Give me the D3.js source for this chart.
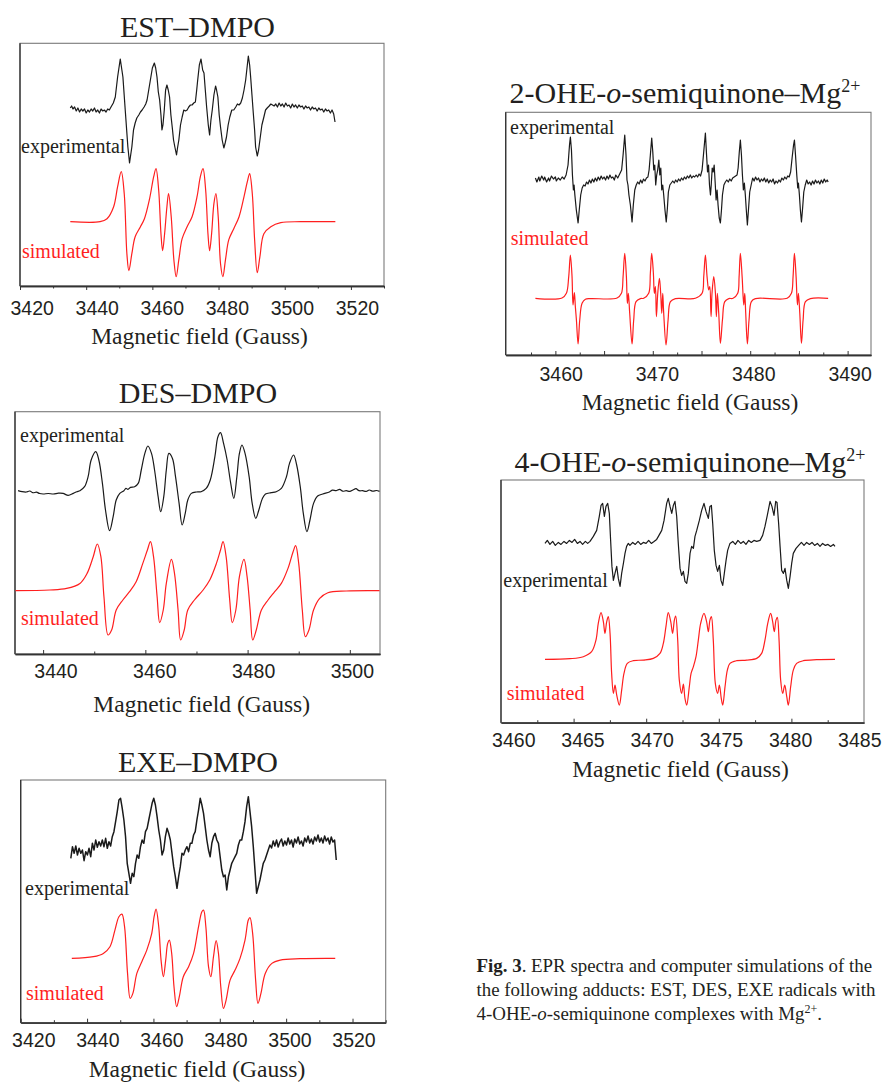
<!DOCTYPE html>
<html>
<head>
<meta charset="utf-8">
<script src="https://cdn.jsdelivr.net/npm/d3@7"></script>
<style>
  body { margin: 0; background: #fff; }
  svg { display: block; }
</style>
</head>
<body>
<div id="fig"></div>
<script>
// EPR spectra figure, 5 panels
const WIDTH = 885;
const HEIGHT = 1083;

// ---- data: [field (G), intensity (a.u.)] ----

// EST-DMPO
const EST_EXP = [[3435.2,2],[3435.6,4],[3436.0,1],[3436.5,3],[3437.0,-1],[3437.5,2],[3438.0,-2],[3438.5,1],[3439.0,-1],[3439.5,1],[3440.0,-3],[3440.5,0],[3441.0,-2],[3441.5,1],[3442.0,-1],[3442.5,2],[3443.0,-2],[3443.5,0],[3444.0,-3],[3444.5,1],[3445.0,-1],[3445.5,0],[3446.0,-2],[3446.5,1],[3447.0,0],[3447.5,3],[3448.2,7],[3448.8,13],[3449.5,33],[3450.3,51],[3451.1,33],[3451.8,0],[3452.6,-37],[3453.1,-53],[3453.8,-37],[3454.3,-20],[3454.8,-13],[3455.3,-8],[3455.9,-5],[3456.4,-2],[3456.9,0],[3457.5,3],[3458.0,6],[3458.4,10],[3458.9,20],[3459.4,30],[3460.0,42],[3460.6,47],[3461.0,42],[3461.4,33],[3461.8,18],[3462.2,10],[3462.6,-5],[3462.9,-20],[3463.2,-15],[3463.6,0],[3464.0,20],[3464.4,25],[3464.8,20],[3465.2,13],[3465.6,-5],[3466.0,-17],[3466.4,-30],[3466.8,-37],[3467.3,-45],[3467.6,-38],[3468.0,-30],[3468.5,-15],[3469.0,-7],[3469.5,0],[3470.0,-1],[3470.5,0],[3471.0,3],[3471.5,5],[3472.0,5],[3472.5,7],[3473.0,8],[3473.4,20],[3473.7,30],[3474.2,45],[3474.7,51],[3475.2,40],[3475.6,37],[3476.0,20],[3476.4,3],[3476.9,-15],[3477.3,-25],[3477.7,-10],[3478.1,0],[3478.6,15],[3479.1,24],[3479.4,20],[3479.8,13],[3480.2,-5],[3480.6,-17],[3481.1,-30],[3481.6,-38],[3482.0,-33],[3482.4,-27],[3482.9,-15],[3483.4,-7],[3484.0,0],[3484.6,0],[3485.2,3],[3485.7,6],[3486.2,5],[3486.7,7],[3487.2,12],[3487.7,20],[3488.2,30],[3489.0,54],[3489.4,45],[3489.7,33],[3490.1,15],[3490.5,-3],[3490.9,-20],[3491.2,-37],[3491.7,-46],[3492.1,-40],[3492.5,-30],[3493.1,-15],[3493.7,-7],[3494.2,0],[3494.7,2],[3495.3,4],[3495.8,6],[3496.3,5],[3496.8,4],[3497.3,6],[3497.8,3],[3498.3,7],[3498.8,4],[3499.3,6],[3499.8,3],[3500.3,7],[3500.8,4],[3501.3,5],[3501.8,2],[3502.3,6],[3502.8,3],[3503.3,5],[3503.8,2],[3504.3,5],[3504.8,3],[3505.3,4],[3505.8,1],[3506.3,4],[3506.8,2],[3507.3,3],[3507.8,0],[3508.3,3],[3508.8,1],[3509.3,2],[3509.8,-1],[3510.3,2],[3510.8,0],[3511.3,1],[3511.8,-2],[3512.3,1],[3512.8,-1],[3513.3,0],[3513.8,-3],[3514.3,0],[3514.8,-4],[3515.2,-12]];
const EST_SIM = [[3435.2,0],[3444.2,0],[3446.3,3],[3448.3,15],[3449.5,35],[3450.6,50],[3451.5,28],[3452.3,-32],[3452.9,-49],[3453.8,-32],[3454.8,-15],[3456.4,-5],[3457.6,3],[3459.1,22],[3460.4,45],[3461.1,53],[3461.9,32],[3462.6,-12],[3463.1,-29],[3463.7,-12],[3464.4,15],[3464.9,28],[3465.7,5],[3466.5,-38],[3467.2,-55],[3468.0,-38],[3469.0,-17],[3470.5,-5],[3472.0,5],[3473.5,25],[3474.5,45],[3475.3,53],[3476.1,32],[3476.8,-12],[3477.3,-29],[3477.9,-12],[3478.6,18],[3479.2,28],[3479.9,5],[3480.6,-42],[3481.3,-55],[3482.1,-38],[3483.1,-18],[3484.6,-7],[3486.2,5],[3487.7,25],[3488.7,40],[3489.4,48],[3490.2,28],[3490.9,-18],[3491.7,-51],[3492.5,-35],[3493.7,-12],[3495.8,-5],[3498.8,-1],[3504.8,0],[3515.3,0]];

// DES-DMPO
const DES_EXP = [[3435.1,1],[3435.9,0],[3436.7,-0.3],[3437.4,0.7],[3438.0,-1],[3438.7,-0.5],[3439.3,-1.8],[3440.0,-2.3],[3441.0,-1.8],[3442.0,-2.3],[3443.0,-1.5],[3443.9,-1.7],[3444.9,-3.7],[3445.9,-1.7],[3446.6,0],[3447.2,1],[3448.1,5],[3448.8,15],[3449.4,31.7],[3450.3,40],[3450.9,31.7],[3451.6,8.3],[3452.2,-18.3],[3453.0,-39],[3453.7,-25],[3454.3,-8.3],[3455.0,-1.7],[3455.8,1],[3456.2,3.3],[3456.6,2.3],[3457.1,4.3],[3457.9,5],[3458.6,8.3],[3459.2,21.7],[3459.9,38.3],[3460.5,45.7],[3461.2,38.3],[3461.8,21.7],[3462.5,-5],[3463.0,-20],[3463.6,-5],[3464.1,21.7],[3464.6,38.3],[3465.3,33.3],[3465.9,15],[3466.6,-11.7],[3467.2,-33.3],[3467.8,-21.7],[3468.3,-8.3],[3469.0,-1.7],[3470.0,-0.3],[3470.9,0],[3471.9,3.3],[3472.7,11.7],[3473.6,35],[3474.2,55],[3474.7,59],[3475.3,48.3],[3476.0,31.7],[3476.7,8.3],[3477.3,-6.7],[3477.9,15],[3478.4,38.3],[3478.9,46.7],[3479.5,38.3],[3480.3,15],[3480.9,-11.7],[3481.6,-26.7],[3482.2,-18.3],[3482.9,-6.7],[3483.5,-2.3],[3484.6,-1],[3485.6,0],[3486.6,3.3],[3487.6,15],[3488.2,28.3],[3489.0,36.7],[3489.6,26.7],[3490.3,5],[3490.9,-21.7],[3491.6,-40],[3492.2,-28.3],[3492.9,-11.7],[3493.7,-4.3],[3494.7,-2.3],[3496.0,-0.3],[3496.6,1.5],[3497.3,1],[3498.0,2.3],[3498.6,0.5],[3499.3,1],[3500.0,0.3],[3500.6,1.7],[3501.2,3],[3501.8,1],[3502.5,1],[3503.2,0.3],[3503.8,1.7],[3504.5,0.5],[3505.2,1.2],[3505.8,0.3]];
const DES_SIM = [[3434.6,0],[3441.3,0.7],[3444.6,2.3],[3447.2,7.3],[3448.6,17.3],[3449.8,34],[3450.6,46.7],[3451.3,34],[3451.9,-6],[3452.7,-44.3],[3453.4,-39.3],[3454.3,-19.3],[3455.6,-9.3],[3456.9,-1],[3458.2,9],[3459.5,27.3],[3460.4,40.7],[3461.0,49],[3461.6,34],[3462.3,-6],[3462.8,-32],[3463.5,-19.3],[3464.1,7.3],[3465.1,31.3],[3465.7,17.3],[3466.4,-19.3],[3466.9,-49.3],[3467.6,-39.3],[3468.3,-19.3],[3469.6,-9.3],[3471.3,0.7],[3472.6,10.7],[3473.9,27.3],[3474.7,40.7],[3475.2,49],[3475.8,34],[3476.5,-9.3],[3477.0,-32],[3477.7,-19.3],[3478.4,14],[3479.3,31.3],[3479.9,14],[3480.5,-19.3],[3481.0,-49.3],[3481.7,-39.3],[3482.7,-19.3],[3484.0,-9.3],[3485.3,-1],[3486.6,7.3],[3487.9,22.3],[3488.9,39],[3489.4,45],[3490.0,27.3],[3490.7,-19.3],[3491.3,-46],[3492.0,-39.3],[3492.9,-19.3],[3494.1,-7.7],[3495.7,-2],[3499.3,-0.3],[3505.8,0]];

// EXE-DMPO (experimental sampled every 0.5 G from 3435.1 G)
const EXE_EXP_START = 3435.1;
const EXE_EXP_STEP = 0.5;
const EXE_EXP = [-8.3,3.3,-3.3,4,-5,1.7,-3.3,0,-10.7,-1.7,-5,1.7,-6.7,6.7,0,10,2.7,8.3,4,10,3.3,11.7,1.7,8.3,4,13.3,18.3,28.3,38.3,50,51.7,41.7,30,13.3,-13.3,-23.3,-33.3,-23.3,-26.7,-13.3,-5,-8.3,3.3,10,6.7,18.3,21.7,30,38.3,46.7,51.7,45,33.3,20,10,-5,0,13.3,21.7,16.7,10,-3.3,-16.7,-26.7,-38.3,-26.7,-16.7,-3.3,-5,0,3.3,-1.7,6.7,6.7,15,18.3,30,40,51.7,45,36.7,23.3,10,0,-6.7,6.7,13.3,16.7,10,6.7,-6.7,-20,-26.7,-25,-40,-26.7,-20,-13.3,-10,-6.7,-3.3,5,10,10,18.3,28.3,43.3,53.3,38.3,23.3,3.3,-20,-43.3,-36.7,-30,-21.7,-13.3,-10,-5,0,5,2,9,4,10,3,8,11,4,9,5,12,6,10,3,11,7,13,6,9,4,12,8,14,7,11,6,13,9,15,8,12,7,14,9,12,6,13,8,10,-10];
const EXE_SIM = [[3435.4,0],[3441.9,1.7],[3444.9,5],[3446.9,11.7],[3448.4,28.3],[3449.6,41.7],[3450.5,44.3],[3451.3,31.7],[3452.2,-15],[3453.0,-40],[3453.8,-35],[3455.0,-15],[3456.5,-3.3],[3458.0,8.3],[3459.5,25],[3460.2,41.7],[3460.8,49.3],[3461.6,31.7],[3462.3,-1.7],[3463.0,-18.3],[3463.7,-1.7],[3464.3,15],[3464.8,18.3],[3465.5,5],[3466.2,-28.3],[3467.0,-48.3],[3467.8,-38.3],[3469.0,-18.3],[3470.6,-8.3],[3472.1,5],[3473.6,31.7],[3474.6,46.7],[3475.1,48.3],[3475.8,31.7],[3476.6,-8.3],[3477.3,-18.3],[3478.1,1.7],[3478.9,17.7],[3479.6,5],[3480.3,-28.3],[3481.1,-50],[3481.9,-41.7],[3483.1,-21.7],[3484.6,-11.7],[3486.1,0],[3487.6,18.3],[3488.6,38.3],[3489.1,40.7],[3489.9,25],[3490.8,-21.7],[3491.5,-45],[3492.4,-35],[3493.7,-15],[3495.7,-5],[3498.2,-1.7],[3504.2,-0.3],[3514.8,0]];

// 2-OHE-o-semiquinone-Mg2+
const OHE2_EXP = [[3457.95,2],[3458.1,-2],[3458.3,3],[3458.4,-1],[3458.6,4],[3458.8,0],[3458.9,3],[3459.1,-2],[3459.3,2],[3459.4,-1],[3459.6,4],[3459.8,1],[3460.0,3],[3460.1,-1],[3460.3,2],[3460.5,0],[3460.7,3],[3460.9,1],[3461.1,5],[3461.3,15],[3461.45,35],[3461.54,43],[3461.65,30],[3461.75,5],[3461.85,-10],[3461.92,-5],[3462.0,-15],[3462.15,-30],[3462.33,-43],[3462.45,-30],[3462.6,-15],[3462.75,-8],[3462.9,-5],[3463.05,-6],[3463.2,-2],[3463.35,-4],[3463.5,0],[3463.65,-3],[3463.8,1],[3463.95,-2],[3464.1,2],[3464.25,-1],[3464.4,3],[3464.55,0],[3464.7,4],[3464.85,1],[3465.0,3],[3465.15,0],[3465.3,4],[3465.45,1],[3465.6,5],[3465.75,2],[3465.9,3],[3466.05,0],[3466.2,5],[3466.4,2],[3466.6,6],[3466.8,10],[3466.95,25],[3467.12,45],[3467.25,25],[3467.35,0],[3467.45,-5],[3467.55,-15],[3467.7,-25],[3467.87,-42],[3468.0,-25],[3468.15,-10],[3468.3,-5],[3468.45,-2],[3468.6,-4],[3468.75,0],[3468.9,-3],[3469.05,1],[3469.2,-1],[3469.35,2],[3469.5,3],[3469.62,10],[3469.75,25],[3469.89,42],[3470.0,28],[3470.1,10],[3470.2,15],[3470.3,-5],[3470.4,5],[3470.5,10],[3470.62,20],[3470.72,5],[3470.82,12],[3470.92,-10],[3471.02,-5],[3471.12,-15],[3471.25,-30],[3471.38,-42],[3471.5,-28],[3471.6,-12],[3471.75,-5],[3471.9,-3],[3472.05,-1],[3472.2,-3],[3472.35,0],[3472.5,-2],[3472.65,1],[3472.8,-1],[3472.95,2],[3473.1,0],[3473.25,3],[3473.4,1],[3473.55,4],[3473.7,2],[3473.85,5],[3474.0,2],[3474.15,4],[3474.3,3],[3474.45,5],[3474.6,3],[3474.75,6],[3474.9,4],[3475.06,10],[3475.2,25],[3475.4,47],[3475.52,25],[3475.62,8],[3475.72,15],[3475.82,-5],[3475.92,-15],[3476.0,-5],[3476.1,12],[3476.2,8],[3476.3,15],[3476.4,-2],[3476.5,-20],[3476.6,-10],[3476.7,-25],[3476.82,-38],[3476.94,-43],[3477.05,-30],[3477.15,-15],[3477.3,-5],[3477.45,-2],[3477.6,0],[3477.75,-2],[3477.9,1],[3478.05,-1],[3478.2,2],[3478.35,3],[3478.5,4],[3478.65,5],[3478.76,12],[3478.88,28],[3478.99,40],[3479.1,25],[3479.2,5],[3479.3,-10],[3479.4,-3],[3479.5,-15],[3479.6,-30],[3479.71,-45],[3479.82,-30],[3479.95,-12],[3480.1,-5],[3480.25,2],[3480.4,-1],[3480.55,3],[3480.7,0],[3480.85,2],[3481.0,-2],[3481.15,1],[3481.3,-1],[3481.45,2],[3481.6,-2],[3481.75,1],[3481.9,-3],[3482.05,0],[3482.2,-2],[3482.35,1],[3482.5,-4],[3482.65,-1],[3482.8,-3],[3482.95,0],[3483.1,-2],[3483.25,2],[3483.4,0],[3483.55,3],[3483.7,1],[3483.85,4],[3484.0,3],[3484.15,8],[3484.3,22],[3484.45,35],[3484.54,40],[3484.65,25],[3484.78,5],[3484.88,-8],[3484.95,-3],[3485.05,-15],[3485.15,-30],[3485.26,-42],[3485.38,-28],[3485.5,-12],[3485.65,-5],[3485.8,0],[3485.95,-4],[3486.1,-2],[3486.25,-5],[3486.4,-1],[3486.55,-4],[3486.7,0],[3486.85,-3],[3487.0,-1],[3487.15,-4],[3487.3,0],[3487.45,-3],[3487.6,1],[3487.75,-2],[3487.9,0],[3488.0,-2]];
const OHE2_SIM = [[3457.95,0],[3460.68,0.3],[3461.13,5],[3461.37,21.7],[3461.54,43.3],[3461.71,21.7],[3461.81,-6.7],[3461.95,5.7],[3462.05,-8.3],[3462.16,-21.7],[3462.33,-45.7],[3462.5,-21.7],[3462.74,-5],[3463.08,-1],[3463.59,-0.3],[3466.33,0.3],[3466.78,5],[3466.95,21.7],[3467.12,45],[3467.29,21.7],[3467.39,-5],[3467.49,5],[3467.63,-15],[3467.87,-45.7],[3468.04,-21.7],[3468.28,-3.3],[3468.73,-0.3],[3469.07,0],[3469.58,5],[3469.75,25],[3469.89,45],[3470.06,25],[3470.16,5],[3470.27,11.7],[3470.37,-18.3],[3470.51,5],[3470.68,20],[3470.81,5],[3470.92,-15],[3471.02,5],[3471.12,-15],[3471.36,-46.7],[3471.57,-21.7],[3471.81,-3.3],[3472.32,-0.3],[3474.37,0],[3475.06,5],[3475.23,21.7],[3475.4,43.3],[3475.57,21.7],[3475.74,8.3],[3475.85,11.7],[3475.98,-18.3],[3476.08,5],[3476.26,21.7],[3476.43,5],[3476.53,-18.3],[3476.63,5],[3476.77,-15],[3476.94,-45],[3477.15,-21.7],[3477.39,-3.3],[3477.8,-0.3],[3478.24,0],[3478.72,5],[3478.86,21.7],[3478.99,45],[3479.17,21.7],[3479.34,-6.7],[3479.44,5],[3479.54,-15],[3479.71,-45.7],[3479.88,-21.7],[3480.12,-3.3],[3480.53,-0.3],[3483.79,0],[3484.23,5],[3484.4,21.7],[3484.54,45],[3484.71,21.7],[3484.85,-6.7],[3484.95,5],[3485.09,-15],[3485.26,-45],[3485.43,-21.7],[3485.67,-3.3],[3486.18,-0.3],[3488.0,0]];

// 4-OHE-o-semiquinone-Mg2+
const OHE4_EXP = [[3463.03,0],[3463.19,3],[3463.37,-1],[3463.56,2],[3463.74,-2],[3463.95,1],[3464.13,-1],[3464.34,2],[3464.52,0],[3464.71,3],[3464.89,1],[3465.07,4],[3465.26,0],[3465.44,2],[3465.62,-1],[3465.81,2],[3465.97,0],[3466.13,2],[3466.36,7],[3466.59,13],[3466.77,27],[3466.89,38],[3467.0,40],[3467.12,27],[3467.23,37],[3467.35,40],[3467.46,30],[3467.55,3],[3467.64,-23],[3467.74,-37],[3467.85,-30],[3467.97,-23],[3468.08,-35],[3468.2,-43],[3468.31,-30],[3468.43,-20],[3468.54,-10],[3468.65,-3],[3468.77,0],[3468.88,-2],[3469.07,1],[3469.25,-1],[3469.44,2],[3469.62,-1],[3469.8,1],[3469.99,0],[3470.17,3],[3470.35,0],[3470.54,2],[3470.72,4],[3470.84,7],[3471.07,13],[3471.23,23],[3471.41,40],[3471.52,45],[3471.64,37],[3471.76,30],[3471.87,38],[3471.98,42],[3472.1,27],[3472.21,0],[3472.33,-25],[3472.44,-32],[3472.56,-28],[3472.67,-38],[3472.79,-40],[3472.9,-30],[3473.02,-10],[3473.13,-3],[3473.25,-5],[3473.36,7],[3473.48,13],[3473.66,23],[3473.82,33],[3473.98,40],[3474.12,32],[3474.28,25],[3474.39,37],[3474.49,38],[3474.58,20],[3474.69,-7],[3474.81,-22],[3474.92,-28],[3475.04,-22],[3475.15,-37],[3475.27,-42],[3475.38,-30],[3475.5,-17],[3475.61,-7],[3475.77,0],[3475.96,2],[3476.14,-1],[3476.32,3],[3476.51,0],[3476.69,2],[3476.87,-1],[3477.06,3],[3477.24,1],[3477.42,3],[3477.61,2],[3477.84,3],[3478.02,8],[3478.18,17],[3478.34,28],[3478.53,42],[3478.66,37],[3478.8,28],[3478.92,42],[3479.01,41],[3479.12,20],[3479.22,-3],[3479.33,-27],[3479.45,-30],[3479.56,-25],[3479.68,-37],[3479.79,-45],[3479.91,-33],[3480.02,-20],[3480.13,-10],[3480.32,-5],[3480.5,-2],[3480.69,1],[3480.87,-2],[3481.05,1],[3481.24,-1],[3481.42,1],[3481.6,-2],[3481.79,0],[3481.97,-3],[3482.15,0],[3482.34,-2],[3482.52,-1],[3482.7,-3],[3482.89,-1],[3483.0,-3]];
const OHE4_SIM = [[3463.03,0],[3464.75,0.7],[3465.67,2.7],[3466.24,7.7],[3466.54,19.3],[3466.7,36],[3466.89,46.7],[3467.05,37.7],[3467.16,26],[3467.28,37.7],[3467.39,42.7],[3467.51,26],[3467.62,-14],[3467.74,-34],[3467.85,-25.7],[3467.97,-35.7],[3468.15,-45.7],[3468.31,-30.7],[3468.47,-14],[3468.7,-4],[3469.11,-1.3],[3469.8,-0.7],[3470.49,1],[3470.95,6],[3471.18,16],[3471.36,32.7],[3471.52,46.7],[3471.69,37.7],[3471.82,26],[3471.94,39.3],[3472.03,43.3],[3472.17,19.3],[3472.28,-20.7],[3472.44,-34],[3472.56,-24.7],[3472.67,-39],[3472.79,-45.7],[3472.97,-27.3],[3473.09,-14],[3473.25,-7.3],[3473.43,2.7],[3473.59,19.3],[3473.75,36],[3473.98,46],[3474.16,37.7],[3474.28,27.7],[3474.39,39.3],[3474.49,42.7],[3474.62,19.3],[3474.76,-24],[3474.92,-34],[3475.04,-25.7],[3475.17,-39],[3475.27,-45.7],[3475.43,-27.3],[3475.59,-10.7],[3475.77,-4],[3476.23,-1.3],[3476.92,-0.7],[3477.61,1],[3477.95,6],[3478.18,19.3],[3478.37,36],[3478.57,46],[3478.71,37.7],[3478.82,27.7],[3478.94,39.3],[3479.03,42],[3479.15,19.3],[3479.26,-20.7],[3479.4,-34],[3479.54,-25.7],[3479.68,-37.3],[3479.79,-45.7],[3479.95,-27.3],[3480.13,-10.7],[3480.36,-4],[3480.82,-1.3],[3481.74,-0.3],[3483.0,0]];

// tick values
const EST_MAJOR = [3420, 3440, 3460, 3480, 3500, 3520];
const EST_MINOR = [3430, 3450, 3470, 3490, 3510, 3530];
const DES_MAJOR = [3440, 3460, 3480, 3500];
const DES_MINOR = [3450, 3470, 3490];
const OHE2_MAJOR = [3460, 3465, 3470, 3475, 3480, 3485, 3490];
const OHE2_MINOR = [3457.5, 3462.5, 3467.5, 3472.5, 3477.5, 3482.5, 3487.5];
const OHE2_LABELS = [3460, 3470, 3480, 3490];
const OHE4_MAJOR = [3465, 3470, 3475, 3480];
const OHE4_MINOR = [3462.5, 3467.5, 3472.5, 3477.5, 3482.5];
const OHE4_LABELS = [3460, 3465, 3470, 3475, 3480, 3485];

const AXIS_TITLE = "Magnetic field (Gauss)";
const SERIF = "'Liberation Serif', 'Times New Roman', serif";
const SANS = "'Liberation Sans', Arial, sans-serif";
const RED = "#ff1f1f";
const INK = "#231f20";

// panel layout
const PANELS = [
  {title: [["EST–DMPO"]], tx: 197.5, ty: 36.5,
   left: 20, right: 384, top: 43.3, bottom: 286, domain: [3420, 3530],
   major: EST_MAJOR, minor: EST_MINOR, labels: EST_MAJOR, tickDir: 1, shift: [11.7, 6], pad: 15.5,
   ax: 199.5, ay: 344,
   exp: EST_EXP, sim: EST_SIM, expBase: 176, simBase: 64.3, expCurve: d3.curveLinear,
   expLab: [21, 153.3], simLab: [22, 258.3]},
  {title: [["DES–DMPO"]], tx: 198, ty: 403.3,
   left: 15, right: 380, top: 411.7, bottom: 654, domain: [3434.5, 3505.9],
   major: DES_MAJOR, minor: DES_MINOR, labels: DES_MAJOR, tickDir: -1, shift: [12.4, 2], pad: 10,
   ax: 201.7, ay: 711.7,
   exp: DES_EXP, sim: DES_SIM, expBase: 162.3, simBase: 63.3, expCurve: d3.curveCatmullRom,
   expLab: [20, 441.7], simLab: [21, 625]},
  {title: [["EXE–DMPO"]], tx: 198, ty: 772.3,
   left: 20.7, right: 385.7, top: 780, bottom: 1022.7, domain: [3420, 3530],
   major: EST_MAJOR, minor: EST_MINOR, labels: EST_MAJOR, tickDir: -1, shift: [12.6, 1], pad: 10.5,
   ax: 197, ay: 1077,
   exp: EXE_EXP.map((v, i) => [EXE_EXP_START + i * EXE_EXP_STEP, v]), sim: EXE_SIM,
   expBase: 172.7, simBase: 64.3, expCurve: d3.curveLinear, expWidth: 1.5,
   expLab: [25, 895], simLab: [26, 1000]},
  {title: [["2-OHE-"], ["o", "italic"], ["-semiquinone–Mg"], ["2+", "sup"]], tx: 685, ty: 103.3,
   left: 505.7, right: 871, top: 112.3, bottom: 355, domain: [3454.9, 3492.4],
   major: OHE2_MAJOR, minor: OHE2_MINOR, labels: OHE2_LABELS, tickDir: -1, shift: [5.3, 2], pad: 12,
   ax: 690, ay: 410,
   exp: OHE2_EXP, sim: OHE2_SIM, expBase: 175, simBase: 56.7, expCurve: d3.curveLinear,
   expLab: [510, 134], simLab: [510.7, 245]},
  {title: [["4-OHE-"], ["o", "italic"], ["-semiquinone–Mg"], ["2+", "sup"]], tx: 690, ty: 471.7,
   left: 501, right: 864, top: 480, bottom: 722.7, domain: [3460, 3485],
   major: OHE4_MAJOR, minor: OHE4_MINOR, labels: OHE4_LABELS, tickDir: -1, shift: [12.3, -4.7], pad: 10.5,
   ax: 680.5, ay: 776.7,
   exp: OHE4_EXP, sim: OHE4_SIM, expBase: 179.3, simBase: 63.3, expCurve: d3.curveLinear,
   expLab: [503.3, 586.7], simLab: [506.7, 700]}
];

const svg = d3.select("#fig").append("svg")
  .attr("width", WIDTH).attr("height", HEIGHT)
  .style("background", "#fff");

PANELS.forEach(drawPanel);

function drawPanel(p) {
  const g = svg.append("g");
  const x = d3.scaleLinear().domain(p.domain).range([p.left, p.right]);
  const y = d3.scaleLinear().domain([0, p.bottom - p.top]).range([p.bottom, p.top]);

  // frame
  g.append("rect")
    .attr("x", p.left).attr("y", p.top)
    .attr("width", p.right - p.left).attr("height", p.bottom - p.top)
    .attr("fill", "none").attr("stroke", "#7a7a7a").attr("stroke-width", 1.1);
  g.append("line")
    .attr("x1", p.left).attr("x2", p.left).attr("y1", p.top).attr("y2", p.bottom)
    .attr("stroke", "#333").attr("stroke-width", 1.3);

  // ticks (inward or outward), no labels
  const tickAxis = (vals, len) => g.append("g")
    .attr("transform", "translate(0," + p.bottom + ")")
    .call(d3.axisBottom(x).tickValues(vals).tickSize(p.tickDir * len).tickSizeOuter(0).tickFormat(""))
    .call(a => a.select(".domain").attr("stroke", "#333").attr("stroke-width", 1.3))
    .call(a => a.selectAll(".tick line").attr("stroke", "#333").attr("stroke-width", 1));
  tickAxis(p.minor, 2.5);
  tickAxis(p.major, 4);

  // tick labels (slightly offset from the ticks, as in the original)
  const lo = p.labels[0], hi = p.labels[p.labels.length - 1];
  const lx = d3.scaleLinear().domain([lo, hi]).range([x(lo) + p.shift[0], x(hi) + p.shift[1]]);
  g.append("g")
    .attr("transform", "translate(0," + p.bottom + ")")
    .call(d3.axisBottom(lx).tickValues(p.labels).tickSize(0).tickPadding(p.pad).tickFormat(d3.format("d")))
    .call(a => a.select(".domain").remove())
    .call(a => a.selectAll("text")
      .attr("font-family", SANS).attr("font-size", 19.5).attr("fill", INK));

  // title
  const t = g.append("text")
    .attr("x", p.tx).attr("y", p.ty)
    .attr("text-anchor", "middle")
    .attr("font-family", SERIF).attr("font-size", 30).attr("fill", INK);
  p.title.forEach(([s, kind]) => {
    const span = t.append("tspan").text(s);
    if (kind === "italic") span.attr("font-style", "italic");
    if (kind === "sup") span.attr("font-size", 18).attr("dy", -11);
  });

  // axis title
  g.append("text")
    .attr("x", p.ax).attr("y", p.ay)
    .attr("text-anchor", "middle")
    .attr("font-family", SERIF).attr("font-size", 23.5).attr("fill", INK)
    .text(AXIS_TITLE);

  // spectra
  const expLine = d3.line()
    .x(d => x(d[0])).y(d => y(d[1] + p.expBase))
    .curve(p.expCurve);
  const simLine = d3.line()
    .x(d => x(d[0])).y(d => y(d[1] + p.simBase))
    .curve(d3.curveCatmullRom.alpha(0.5));

  g.append("path").datum(p.exp)
    .attr("d", expLine)
    .attr("fill", "none").attr("stroke", "#1a1a1a")
    .attr("stroke-width", p.expWidth || 1.2).attr("stroke-linejoin", "round");
  g.append("path").datum(p.sim)
    .attr("d", simLine)
    .attr("fill", "none").attr("stroke", RED)
    .attr("stroke-width", 1.2).attr("stroke-linejoin", "round");

  // trace labels
  g.append("text")
    .attr("x", p.expLab[0]).attr("y", p.expLab[1])
    .attr("font-family", SERIF).attr("font-size", 20).attr("fill", INK)
    .text("experimental");
  g.append("text")
    .attr("x", p.simLab[0]).attr("y", p.simLab[1])
    .attr("font-family", SERIF).attr("font-size", 20).attr("fill", RED)
    .text("simulated");
}

// caption
const CAPTION = [
  [["Fig. 3", "bold"], [". EPR spectra and computer simulations of the"]],
  [["the following adducts: EST, DES, EXE radicals with"]],
  [["4-OHE-"], ["o", "italic"], ["-semiquinone complexes with Mg"], ["2+", "sup"], [".", "after"]]
];
const cap = svg.append("g");
CAPTION.forEach((line, i) => {
  const t = cap.append("text")
    .attr("x", 476.5).attr("y", 972 + i * 24)
    .attr("font-family", SERIF).attr("font-size", 18.9).attr("fill", INK);
  line.forEach(([s, kind]) => {
    const span = t.append("tspan").text(s);
    if (kind === "bold") span.attr("font-weight", "bold");
    if (kind === "italic") span.attr("font-style", "italic");
    if (kind === "sup") span.attr("font-size", 12).attr("dy", -7);
    if (kind === "after") span.attr("dy", 7);
  });
});
</script>
</body>
</html>
